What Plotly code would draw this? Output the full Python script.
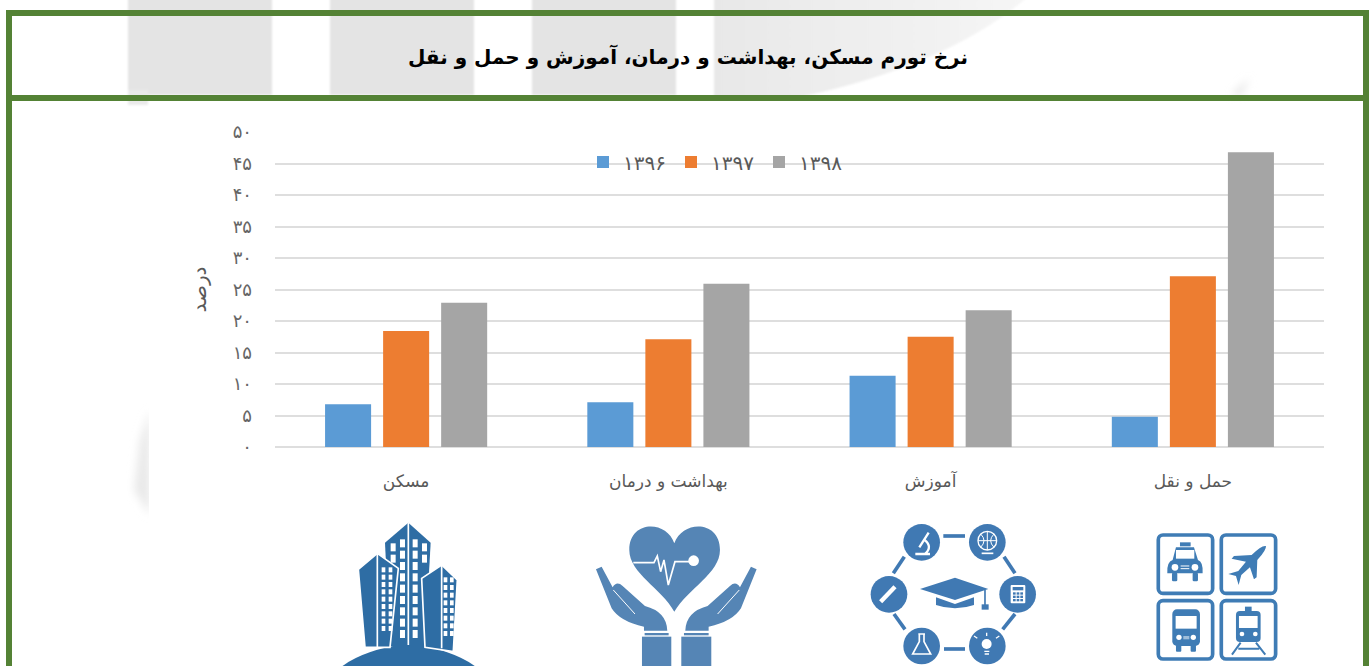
import base64
import plotly.graph_objects as go

categories = ["مسکن", "بهداشت و درمان", "آموزش", "حمل و نقل"]
series_names = ["۱۳۹۶", "۱۳۹۷", "۱۳۹۸"]
values_1396 = [6.8, 7.1, 11.3, 4.8]
values_1397 = [18.4, 17.1, 17.5, 27.1]
values_1398 = [22.9, 25.9, 21.7, 46.8]
tick_values = [0, 5, 10, 15, 20, 25, 30, 35, 40, 45, 50]
tick_labels = ["۰", "۵", "۱۰", "۱۵", "۲۰", "۲۵", "۳۰", "۳۵", "۴۰", "۴۵", "۵۰"]
title_text = "نرخ تورم مسکن، بهداشت و درمان، آموزش و حمل و نقل"
y_title = "درصد"
colors = ["#5B9BD5", "#ED7D31", "#A5A5A5"]

W, H = 1370, 666
FONT = "DejaVu Sans"
GREEN = "#548235"


def building_icon():
    c = "#2E6DA4"
    s = f'<g transform="translate(300 510) scale(.3333)" fill="{c}">'
    s += '<path d="M125,470 Q190,420 325,400 Q460,420 527,470 Z"/>'
    s += '<path d="M325,38 L392,98 L375,408 L270,408 L255,98 Z"/>'
    s += '<path d="M232,130 L295,175 L270,412 L195,412 L175,178 Z" stroke="#fff" stroke-width="5"/>'
    s += '<path d="M425,165 L472,210 L460,425 L375,412 L365,205 Z" stroke="#fff" stroke-width="5"/>'
    s += '<g stroke="#fff" stroke-width="5"><path d="M325,38 V405"/><path d="M232,130 V412"/><path d="M425,165 V415"/></g>'
    s += '<g fill="#fff">'
    for x in (280, 308, 346, 374):
        for i in range(2 if x in (280, 374) else 9):
            s += f'<rect x="{x - 8}" y="{88 + i * 34 + (12 if x in (280, 374) else 0)}" width="15" height="24"/>'
    for x in (251, 272):
        for i in range(9):
            s += f'<rect x="{x - 6}" y="{172 + i * 22}" width="11" height="15"/>'
    for x in (437, 456):
        for i in range(8):
            s += f'<rect x="{x - 6}" y="{202 + i * 23}" width="11" height="15"/>'
    s += '</g></g>'
    return s


def health_icon():
    c = "#5585B5"
    s = f'<g transform="translate(300 510) scale(.3333)" fill="{c}">'
    s += '<path d="M1123,100 C1100,30 988,30 988,120 C988,190 1085,235 1123,305 C1165,235 1260,190 1260,120 C1260,30 1148,30 1123,100 Z"/>'
    s += '<path d="M1000,158 H1062 L1072,138 L1082,185 L1092,150 L1105,225 L1125,155 H1170" fill="none" stroke="#fff" stroke-width="5"/>'
    s += '<circle cx="1181" cy="152" r="16" fill="#fff"/>'
    hand = '<path d="M888,178 L905,170 L938,232 Q950,212 968,228 L1035,288 Q1100,305 1102,362 L1032,362 L1032,350 Q960,335 935,295 Z"/>'
    line = '<path d="M940,240 L1005,312" stroke="#fff" stroke-width="3" fill="none"/>'
    s += hand + line
    s += f'<g transform="translate(2258 0) scale(-1 1)">{hand}{line}</g>'
    s += '<rect x="1034" y="369" width="72" height="7"/><rect x="1026" y="380" width="88" height="90"/>'
    s += '<rect x="1152" y="369" width="74" height="7"/><rect x="1144" y="380" width="90" height="90"/>'
    s += '</g>'
    return s


def education_icon():
    c = "#4079B3"
    s = f'<g transform="translate(850 510) scale(.3333)" fill="{c}">'
    for x, y in [(215, 97), (412, 97), (503, 253), (412, 408), (215, 408), (117, 253)]:
        s += f'<circle cx="{x}" cy="{y}" r="55"/>'
    s += f'<g stroke="{c}" stroke-width="11" fill="none">'
    for a, b, d, e in [(280, 78, 345, 78), (462, 140, 495, 190), (495, 312, 458, 358),
                       (345, 417, 282, 417), (165, 358, 132, 312), (130, 190, 163, 140)]:
        s += f'<path d="M{a},{b} L{d},{e}"/>'
    s += '</g>'
    s += '<path d="M210,237 L315,203 L415,237 L315,270 Z"/>'
    s += '<path d="M258,262 L315,282 L372,262 V285 Q315,305 258,285 Z"/>'
    s += f'<path d="M405,240 V285" stroke="{c}" stroke-width="5"/><rect x="395" y="283" width="21" height="16"/>'
    s += '<g fill="none" stroke="#fff" stroke-width="7">'
    # microscope
    s += '<path d="M236,68 L208,112 M196,132 H240 M222,88 Q250,110 225,132"/>'
    # globe
    s += '<circle cx="412" cy="92" r="28" stroke-width="4"/><path d="M384,92 H440 M412,64 V120 M392,72 Q412,92 392,112 M432,72 Q412,92 432,112" stroke-width="3"/><path d="M395,130 H430" stroke-width="5"/>'
    # pencil
    s += '<path d="M92,275 L135,230" stroke-width="13"/>'
    # flask
    s += '<path d="M205,372 H225 M208,374 V395 L188,432 H242 L222,395 V374" stroke-width="5"/>'
    # bulb
    s += '<circle cx="410" cy="402" r="15" fill="#fff" stroke="none"/><path d="M403,424 H418 M404,432 H417 M382,385 L372,378 M410,378 V368 M438,385 L448,378" stroke-width="4"/>'
    s += '</g>'
    # calculator
    s += '<rect x="482" y="225" width="44" height="55" rx="3" fill="#fff"/><rect x="488" y="231" width="32" height="10"/>'
    for i in range(3):
        for j in range(3):
            s += f'<rect x="{489 + i * 11}" y="{247 + j * 10}" width="8" height="7"/>'
    s += '</g>'
    return s


def transport_icon():
    c = "#3F7CB5"
    s = f'<g transform="translate(850 510) scale(.3333)" fill="{c}">'
    s += f'<g fill="none" stroke="{c}" stroke-width="11">'
    for x, y in [(925, 75), (1114, 75), (925, 272), (1114, 272)]:
        s += f'<rect x="{x}" y="{y}" width="163" height="175" rx="14"/>'
    s += '</g>'
    # taxi
    s += '<rect x="990" y="97" width="32" height="12"/>'
    s += f'<path d="M968,150 L978,112 H1032 L1044,150 Q1060,155 1058,190 H952 Q950,155 968,150 Z"/>'
    s += '<rect x="978" y="120" width="55" height="26" fill="#fff"/>'
    s += '<rect x="966" y="188" width="16" height="26" rx="4"/><rect x="1028" y="188" width="16" height="26" rx="4"/>'
    s += '<circle cx="975" cy="172" r="10" fill="#fff"/><circle cx="1035" cy="172" r="10" fill="#fff"/>'
    s += '<path d="M992,168 H1018 M992,176 H1018" stroke="#fff" stroke-width="3"/>'
    # plane
    s += '<path d="M1248,108 Q1235,105 1205,135 L1152,138 L1145,146 L1188,155 L1165,183 L1135,192 L1158,198 L1166,225 L1174,195 L1200,172 L1212,208 L1220,202 L1222,150 Q1250,120 1248,108 Z"/>'
    # bus
    s += '<rect x="967" y="298" width="83" height="110" rx="14"/>'
    s += '<rect x="977" y="318" width="63" height="38" fill="#fff"/>'
    s += '<rect x="978" y="405" width="16" height="20" rx="3"/><rect x="1022" y="405" width="16" height="20" rx="3"/>'
    s += '<circle cx="987" cy="382" r="8" fill="#fff"/><circle cx="1030" cy="382" r="8" fill="#fff"/>'
    s += '<rect x="1000" y="378" width="18" height="10" fill="#fff" opacity=".5"/>'
    # train
    s += '<rect x="1158" y="303" width="74" height="93" rx="12"/><rect x="1185" y="290" width="20" height="14"/>'
    s += '<rect x="1167" y="318" width="56" height="36" fill="#fff"/>'
    s += '<circle cx="1176" cy="372" r="7" fill="#fff"/><circle cx="1216" cy="372" r="7" fill="#fff"/>'
    s += f'<path d="M1172,398 L1146,434 M1218,398 L1246,434 M1165,416 H1228" stroke="{c}" stroke-width="6" fill="none"/>'
    s += '</g>'
    return s


def backdrop():
    s = f'<svg xmlns="http://www.w3.org/2000/svg" width="{W}" height="{H}" viewBox="0 0 {W} {H}">'
    s += '<defs><filter id="b" x="-20%" y="-20%" width="140%" height="140%"><feGaussianBlur stdDeviation="1.2"/></filter>'
    s += '<filter id="c" x="-50%" y="-50%" width="200%" height="200%"><feGaussianBlur stdDeviation="4"/></filter>'
    s += '<linearGradient id="g" x1="0" x2="1" y1="0" y2="0"><stop offset="0" stop-color="#e8e8e8"/><stop offset="1" stop-color="#f6f6f6"/></linearGradient></defs>'
    s += '<g filter="url(#b)" fill="#E4E4E4">'
    for x0, x1 in [(128, 272), (330, 474), (532, 676)]:
        s += f'<rect x="{x0}" y="-5" width="{x1 - x0}" height="100"/>'
    s += '<rect x="128" y="90" width="20" height="15" fill="#EAEAEA"/>'
    s += '<path d="M714,-5 H1030 Q950,65 800,97 H714 Z" fill="url(#g)"/>'
    s += '</g>'
    s += '<path d="M150,410 V515 L134,490 L140,440 Z" fill="#E9E9E9" filter="url(#c)"/>'
    s += '<path d="M1250,78 L1232,95 L1240,95 Z" fill="#ddd" filter="url(#c)"/>'
    s += '<rect x="149" y="380" width="12" height="170" fill="#fff"/>'
    s += building_icon() + health_icon() + education_icon() + transport_icon()
    s += f'<g fill="{GREEN}"><rect x="6" y="10" width="1363" height="6"/><rect x="6" y="95" width="1363" height="6"/>'
    s += f'<rect x="6" y="10" width="6" height="{H}"/><rect x="1363" y="10" width="6" height="{H}"/></g>'
    s += '</svg>'
    return "data:image/svg+xml;base64," + base64.b64encode(s.encode()).decode()


fig = go.Figure()
for name, vals, col in zip(series_names, [values_1396, values_1397, values_1398], colors):
    fig.add_trace(go.Bar(name=name, x=categories, y=vals, marker=dict(color=col, line=dict(width=0))))

fig.update_layout(
    width=W, height=H, autosize=False,
    margin=dict(l=0, r=0, t=0, b=0, pad=0),
    paper_bgcolor="rgba(0,0,0,0)", plot_bgcolor="rgba(0,0,0,0)",
    font=dict(family=FONT, color="#595959", size=16),
    barmode="group", bargap=0.336, bargroupgap=0.207,
    title=dict(text=f"<b>{title_text}</b>", x=688 / W, y=1 - 57 / H, xanchor="center", yanchor="middle",
               xref="paper", yref="paper", font=dict(family=FONT, size=20, color="#000")),
    legend=dict(orientation="h", x=583 / W, y=1 - 162 / H, xanchor="left", yanchor="middle",
                bgcolor="rgba(0,0,0,0)", font=dict(size=20, color="#595959"),
                entrywidth=43, entrywidthmode="pixels", traceorder="normal"),
    xaxis=dict(domain=[275 / W, 1324 / W], categoryorder="array", categoryarray=categories,
               showgrid=False, showline=False, ticks="", ticklabelstandoff=22,
               tickfont=dict(size=17, color="#595959"), anchor="y", fixedrange=True),
    yaxis=dict(domain=[(H - 447) / H, (H - 132) / H], range=[0, 50], tickvals=tick_values, ticktext=tick_labels,
               gridcolor="#DEDEDE", gridwidth=2, zeroline=True, zerolinecolor="#DEDEDE", zerolinewidth=2,
               showline=False, ticks="", ticklabelstandoff=22, tickfont=dict(size=18, color="#666666"),
               title=dict(text=y_title, font=dict(size=20, color="#595959"), standoff=20), anchor="x", fixedrange=True),
    images=[dict(source=backdrop(), xref="paper", yref="paper", x=0, y=1, sizex=1, sizey=1,
                 xanchor="left", yanchor="top", sizing="stretch", layer="below")],
    showlegend=True,
)
fig.update_xaxes(automargin=False)
fig.update_yaxes(automargin=False)

fig.write_html("out.html", post_script="document.body.style.margin='0';document.body.style.overflow='hidden';",
               config={"displayModeBar": False})
